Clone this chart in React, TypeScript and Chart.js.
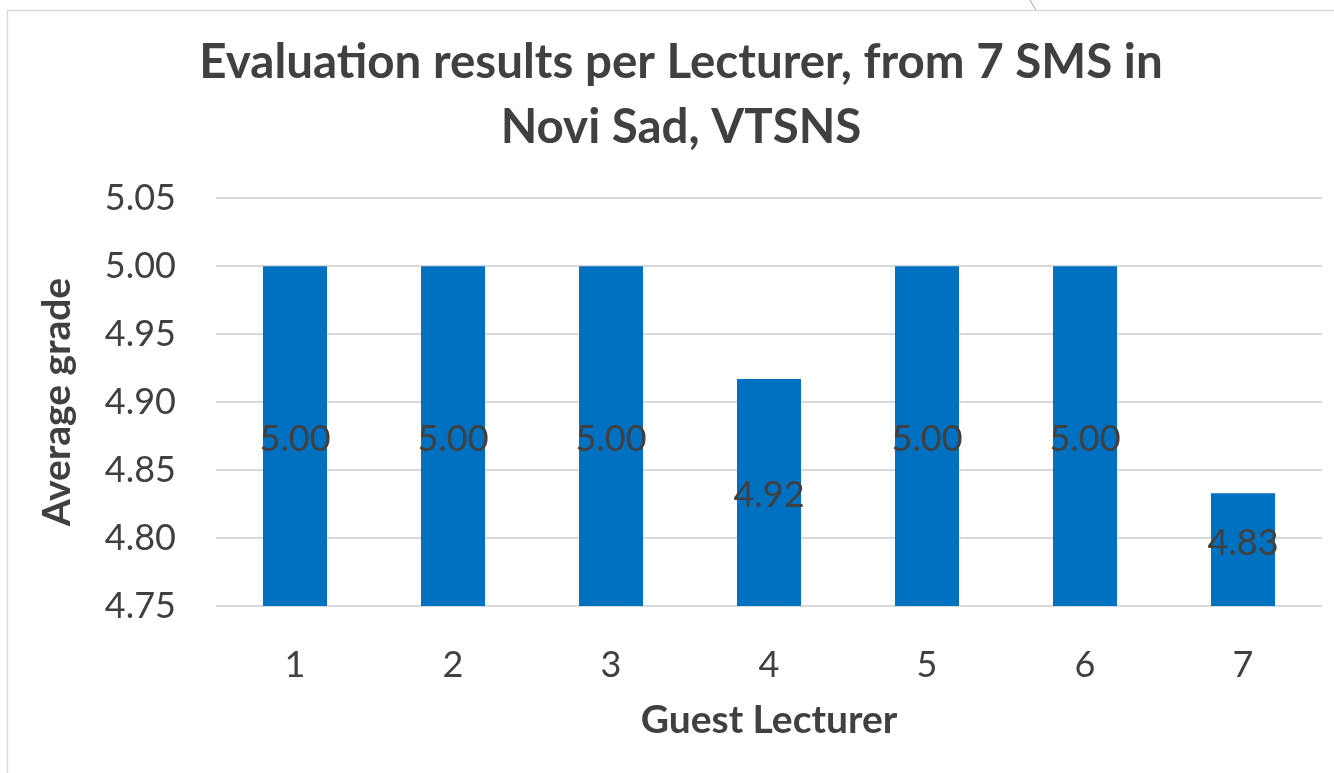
import React, { useEffect, useRef } from "react";
import { Chart, registerables } from "chart.js";

Chart.register(...registerables);

const categories = ["1", "2", "3", "4", "5", "6", "7"];
const averageGrades = [5.0, 5.0, 5.0, 4.917, 5.0, 5.0, 4.833];
const yMin = 4.75;
const yMax = 5.05;
const yStep = 0.05;
const titleLines = ["Evaluation results per Lecturer, from 7 SMS in", "Novi Sad, VTSNS"];
const xAxisTitle = "Guest Lecturer";
const yAxisTitle = "Average grade";

const FONT = "Lato, sans-serif";
const TEXT = "#404040";
const GRID = "#d9d9d9";
const BAR = "#0070C0";

const framePlugin = {
  id: "frame",
  beforeDraw(chart: any) {
    const ctx = chart.ctx;
    ctx.save();
    ctx.fillStyle = "#ffffff";
    ctx.fillRect(0, 0, chart.width, chart.height);
    ctx.strokeStyle = GRID;
    ctx.lineWidth = 1.5;
    ctx.strokeRect(7.5, 10.5, chart.width + 50, chart.height + 50);
    ctx.strokeStyle = "#a6a6a6";
    ctx.lineWidth = 1;
    ctx.beginPath();
    ctx.moveTo(1030, 0);
    ctx.lineTo(1036, 10);
    ctx.stroke();
    ctx.restore();
  },
};

const valueLabelPlugin = {
  id: "valueLabels",
  afterDraw(chart: any) {
    const ctx = chart.ctx;
    const meta = chart.getDatasetMeta(0);
    const yScale = chart.scales.y;
    const values = chart.data.datasets[0].data as number[];
    const basePx = yScale.getPixelForValue(yScale.min);
    ctx.save();
    ctx.font = "36px Lato, sans-serif";
    ctx.fillStyle = TEXT;
    ctx.textAlign = "center";
    ctx.textBaseline = "middle";
    for (let i = 0; i < values.length; i++) {
      const el = meta.data[i] as any;
      const topPx = yScale.getPixelForValue(values[i]);
      const y = Math.min((topPx + basePx) / 2 + 3, basePx - 63);
      ctx.fillText(Number(values[i]).toFixed(2), el.x, y);
    }
    ctx.restore();
  },
};

export default function App() {
  const ref = useRef<HTMLCanvasElement>(null);

  useEffect(() => {
    document.body.style.margin = "0";
    const chart = new Chart(ref.current as HTMLCanvasElement, {
      type: "bar",
      data: {
        labels: categories,
        datasets: [
          {
            data: averageGrades,
            backgroundColor: BAR,
            barPercentage: 0.405,
            categoryPercentage: 1,
            yAxisID: "y",
          },
        ],
      },
      options: {
        responsive: false,
        animation: false,
        devicePixelRatio: 1,
        layout: { padding: { left: 28, right: 0, top: 0, bottom: 0 } },
        plugins: {
          legend: { display: false },
          tooltip: { enabled: false },
          title: {
            display: true,
            text: titleLines,
            color: TEXT,
            font: { family: FONT, size: 47.5, weight: "bold", lineHeight: 1.37 },
            padding: { top: 30, bottom: 38 },
          },
        },
        scales: {
          x: {
            grid: { display: false },
            border: { display: false },
            ticks: {
              color: TEXT,
              font: { family: FONT, size: 36 },
              padding: 30,
            },
            title: {
              display: true,
              text: xAxisTitle,
              color: TEXT,
              font: { family: FONT, size: 39, weight: "bold", lineHeight: 1.2 },
              padding: { top: 0, bottom: 29 },
            },
            afterFit: (s: any) => {
              s.height = 167;
            },
          },
          y: {
            min: yMin,
            max: yMax,
            border: { display: false },
            grid: { color: GRID, lineWidth: 2, drawTicks: false },
            ticks: {
              stepSize: yStep,
              color: TEXT,
              font: { family: FONT, size: 36 },
              padding: 40,
              callback: (v: any) => Number(v).toFixed(2),
            },
            title: {
              display: true,
              text: yAxisTitle,
              color: TEXT,
              font: { family: FONT, size: 39, weight: "bold", lineHeight: 1.2 },
              padding: { top: 6, bottom: 0 },
            },
            afterFit: (s: any) => {
              s.width = 188;
            },
          },
          yRight: {
            position: "right",
            display: true,
            grid: { display: false },
            border: { display: false },
            ticks: { display: false },
            afterFit: (s: any) => {
              s.width = 12;
            },
          },
        },
      },
      plugins: [framePlugin, valueLabelPlugin],
    } as any);
    return () => chart.destroy();
  }, []);

  return (
    <div style={{ width: 1334, height: 773 }}>
      <canvas ref={ref} width={1334} height={773} style={{ display: "block" }} />
    </div>
  );
}
